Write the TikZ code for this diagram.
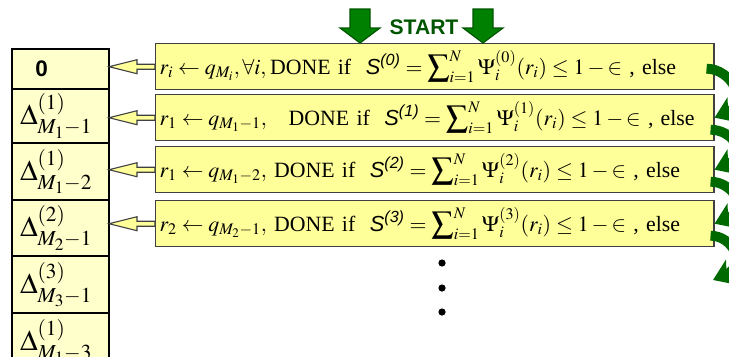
\documentclass[tikz,border=0pt]{standalone}
\usepackage{amsmath}
\usepackage{mathptmx}
\usepackage{fontspec}
\setmainfont{Liberation Serif}
\setsansfont{Liberation Sans}
\usepackage{xcolor}
\usetikzlibrary{positioning, arrows.meta, calc}
\definecolor{boxyellow}{RGB}{255,255,153}
\definecolor{cellyellow}{RGB}{255,255,204}
\definecolor{edgegray}{RGB}{64,64,64}
\definecolor{startgreen}{RGB}{0,128,0}
\definecolor{darkgreen}{RGB}{0,85,0}
\definecolor{loopgreen}{RGB}{0,105,0}
\newcommand{\Sv}[1]{\textsf{\itshape S}^{\textsf{\itshape (#1)}}}
\newcommand{\bigsum}{\displaystyle\sum\nolimits_{i=1}^{N}}
\tikzset{
  cell/.style  ={draw, line width=1.2pt, fill=cellyellow, outer sep=0pt,
                 text width=2.025cm, inner xsep=0.2cm, align=left,
                 font=\fontsize{20.5}{23}\selectfont},
  box/.style   ={draw=edgegray, line width=1pt, fill=boxyellow, anchor=north west,
                 minimum width=13.95cm, minimum height=1.15cm, text width=13.75cm,
                 inner xsep=0.1cm, align=left, font=\fontsize{15.5}{18}\selectfont},
  hollow/.style={draw=edgegray, fill=boxyellow, line width=0.8pt, line join=miter},
  block/.style ={draw=darkgreen, fill=startgreen, line width=0.8pt, line join=miter},
  loop/.style  ={draw=loopgreen, line width=7pt,
                 -{Stealth[length=14pt, width=19pt, inset=3.5pt]}},
  dot/.style   ={circle, fill=black, inner sep=0pt, minimum size=0.18cm},
}

\begin{document}
\begin{tikzpicture}[x=0.025cm, y=-0.025cm]
  \clip (0,0) rectangle (729,356);
  % left column
  \node[cell, minimum height=1.0cm, anchor=north west] (c0) at (12,49)
       {\hspace{11pt}\textsf{\bfseries\fontsize{16}{18}\selectfont 0}};
  \node[cell, minimum height=1.275cm, below=0pt of c0] (c1) {$\Delta^{(1)}_{M_1-1}$};
  \node[cell, minimum height=1.425cm, below=0pt of c1] (c2) {$\Delta^{(1)}_{M_1-2}$};
  \node[cell, minimum height=1.4cm,   below=0pt of c2] (c3) {$\Delta^{(2)}_{M_2-1}$};
  \node[cell, minimum height=1.425cm, below=0pt of c3] (c4) {$\Delta^{(3)}_{M_3-1}$};
  \node[cell, minimum height=1.425cm, below=0pt of c4] (c5) {$\Delta^{(1)}_{M_1-3}$};
  % steps
  \node[box] (b0) at (155,43)  {$r_i \leftarrow q_{M_i}, \forall i,$\,DONE if\ \ $\Sv{0} = \bigsum\Psi_i^{(0)}(r_i) \le 1-{\in}$ , else};
  \node[box] (b1) at (155,94)  {$r_1 \leftarrow q_{M_1-1},$\ \ \ DONE if\ \ $\Sv{1} = \bigsum\Psi_i^{(1)}(r_i) \le 1-{\in}$ , else};
  \node[box] (b2) at (155,146) {$r_1 \leftarrow q_{M_1-2},$\ DONE if\ \ $\Sv{2} = \bigsum\Psi_i^{(2)}(r_i) \le 1-{\in}$ , else};
  \node[box] (b3) at (155,200) {$r_2 \leftarrow q_{M_2-1},$\ DONE if\ \ $\Sv{3} = \bigsum\Psi_i^{(3)}(r_i) \le 1-{\in}$ , else};
  % results back to the column
  \foreach \b/\c in {b0/c0, b1/c1, b2/c2, b3/c3}{
    \coordinate (tip) at (\c.east |- \b.west);
    \draw[hollow] (tip) -- ($(tip)+(28,-7)$) -- ($(tip)+(28,-2.5)$) -- ($(\b.west)+(0,-2.5)$)
      -- ($(\b.west)+(0,2.5)$) -- ($(tip)+(28,2.5)$) -- ($(tip)+(28,7)$) -- cycle;
  }
  % start
  \node[text=darkgreen, font=\sffamily\bfseries\fontsize{15}{18}\selectfont] (start) at (424,27) {START};
  \foreach \dx in {-64,59}{
    \draw[block] ($(start)+(\dx-10,-18)$) -- ($(start)+(\dx+10,-18)$) -- ($(start)+(\dx+10,1)$)
      -- ($(start)+(\dx+20,1)$) -- ($(start)+(\dx,16)$) -- ($(start)+(\dx-20,1)$)
      -- ($(start)+(\dx-10,1)$) -- cycle;
  }
  % else branches
  \coordinate (more) at (713,280);
  \draw[loop] ($(b0.east)+(-8,2)$) .. controls +(25,0) and +(35,-15) .. (b1.east);
  \draw[loop] ($(b1.east)+(-4,12)$) .. controls +(22,0) and +(35,-15) .. (b2.east);
  \draw[loop] ($(b2.east)+(-4,12)$) .. controls +(22,0) and +(35,-15) .. (b3.east);
  \draw[loop] ($(b3.east)+(-4,12)$) .. controls +(22,0) and +(35,-15) .. (more);
  % more steps
  \node[dot] (d1) at (442,263) {};
  \node[dot] (d2) at (442,288) {};
  \node[dot] (d3) at (442,312) {};
\end{tikzpicture}
\end{document}
